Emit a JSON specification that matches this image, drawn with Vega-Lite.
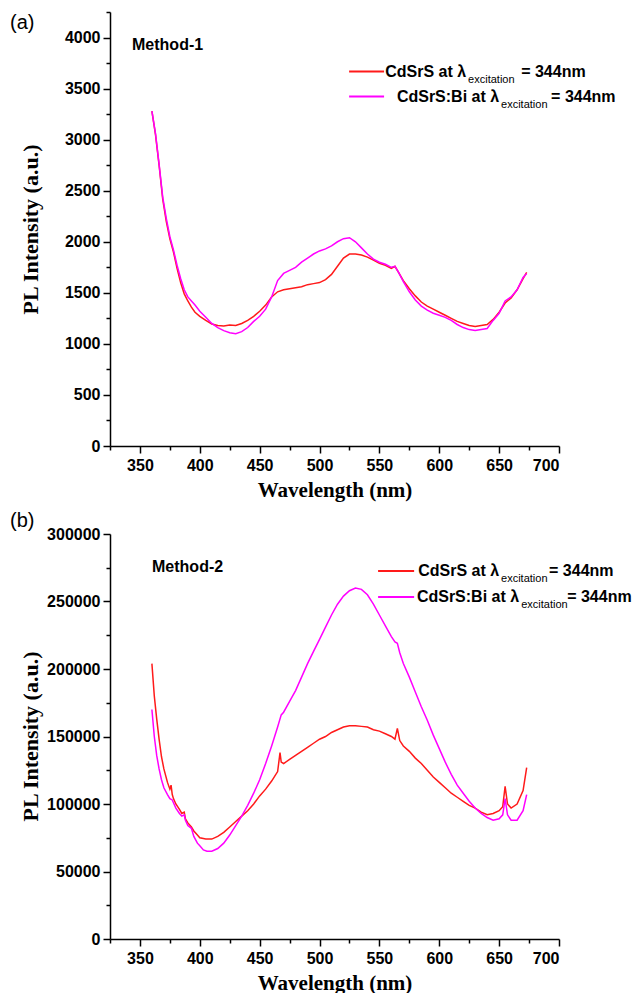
{
  "$schema": "https://vega.github.io/schema/vega-lite/v6.json",
  "padding": {"left": 10, "top": 11, "right": 0, "bottom": 0},
  "spacing": 11,
  "background": "white",
  "config": {
    "view": {"stroke": null},
    "axis": {
      "domainColor": "black", "tickColor": "black", "labelColor": "black", "titleColor": "black",
      "domainWidth": 1.5, "tickWidth": 1.5, "grid": false,
      "labelFont": "Liberation Sans", "labelFontWeight": "bold", "labelFontSize": 16,
      "titleFont": "Liberation Serif", "titleFontWeight": "bold", "titleFontSize": 21
    }
  },
  "datasets": {
    "m1": [
      {"wl":360,"pl":3280,"series":"CdSrS"},{"wl":363,"pl":3050,"series":"CdSrS"},{"wl":366,"pl":2750,"series":"CdSrS"},{"wl":369,"pl":2420,"series":"CdSrS"},{"wl":372,"pl":2200,"series":"CdSrS"},{"wl":375,"pl":2030,"series":"CdSrS"},{"wl":378,"pl":1900,"series":"CdSrS"},{"wl":381,"pl":1740,"series":"CdSrS"},{"wl":384,"pl":1600,"series":"CdSrS"},{"wl":387,"pl":1490,"series":"CdSrS"},{"wl":390,"pl":1420,"series":"CdSrS"},{"wl":393,"pl":1360,"series":"CdSrS"},{"wl":396,"pl":1310,"series":"CdSrS"},{"wl":400,"pl":1270,"series":"CdSrS"},{"wl":405,"pl":1230,"series":"CdSrS"},{"wl":410,"pl":1195,"series":"CdSrS"},{"wl":415,"pl":1180,"series":"CdSrS"},{"wl":420,"pl":1175,"series":"CdSrS"},{"wl":425,"pl":1185,"series":"CdSrS"},{"wl":430,"pl":1180,"series":"CdSrS"},{"wl":435,"pl":1200,"series":"CdSrS"},{"wl":440,"pl":1230,"series":"CdSrS"},{"wl":445,"pl":1270,"series":"CdSrS"},{"wl":450,"pl":1320,"series":"CdSrS"},{"wl":455,"pl":1380,"series":"CdSrS"},{"wl":460,"pl":1460,"series":"CdSrS"},{"wl":465,"pl":1510,"series":"CdSrS"},{"wl":470,"pl":1530,"series":"CdSrS"},{"wl":475,"pl":1540,"series":"CdSrS"},{"wl":480,"pl":1550,"series":"CdSrS"},{"wl":485,"pl":1560,"series":"CdSrS"},{"wl":490,"pl":1580,"series":"CdSrS"},{"wl":495,"pl":1590,"series":"CdSrS"},{"wl":500,"pl":1600,"series":"CdSrS"},{"wl":505,"pl":1630,"series":"CdSrS"},{"wl":510,"pl":1680,"series":"CdSrS"},{"wl":515,"pl":1760,"series":"CdSrS"},{"wl":520,"pl":1840,"series":"CdSrS"},{"wl":525,"pl":1880,"series":"CdSrS"},{"wl":530,"pl":1880,"series":"CdSrS"},{"wl":535,"pl":1870,"series":"CdSrS"},{"wl":540,"pl":1850,"series":"CdSrS"},{"wl":545,"pl":1820,"series":"CdSrS"},{"wl":550,"pl":1790,"series":"CdSrS"},{"wl":555,"pl":1770,"series":"CdSrS"},{"wl":560,"pl":1740,"series":"CdSrS"},{"wl":563,"pl":1760,"series":"CdSrS"},{"wl":566,"pl":1700,"series":"CdSrS"},{"wl":570,"pl":1620,"series":"CdSrS"},{"wl":575,"pl":1540,"series":"CdSrS"},{"wl":580,"pl":1470,"series":"CdSrS"},{"wl":585,"pl":1410,"series":"CdSrS"},{"wl":590,"pl":1370,"series":"CdSrS"},{"wl":595,"pl":1340,"series":"CdSrS"},{"wl":600,"pl":1310,"series":"CdSrS"},{"wl":605,"pl":1280,"series":"CdSrS"},{"wl":610,"pl":1250,"series":"CdSrS"},{"wl":615,"pl":1220,"series":"CdSrS"},{"wl":620,"pl":1200,"series":"CdSrS"},{"wl":625,"pl":1180,"series":"CdSrS"},{"wl":630,"pl":1170,"series":"CdSrS"},{"wl":635,"pl":1180,"series":"CdSrS"},{"wl":640,"pl":1190,"series":"CdSrS"},{"wl":645,"pl":1240,"series":"CdSrS"},{"wl":650,"pl":1310,"series":"CdSrS"},{"wl":655,"pl":1400,"series":"CdSrS"},{"wl":660,"pl":1450,"series":"CdSrS"},{"wl":665,"pl":1530,"series":"CdSrS"},{"wl":670,"pl":1640,"series":"CdSrS"},{"wl":673,"pl":1700,"series":"CdSrS"},
      {"wl":360,"pl":3280,"series":"CdSrS:Bi"},{"wl":363,"pl":3060,"series":"CdSrS:Bi"},{"wl":366,"pl":2760,"series":"CdSrS:Bi"},{"wl":369,"pl":2440,"series":"CdSrS:Bi"},{"wl":372,"pl":2230,"series":"CdSrS:Bi"},{"wl":375,"pl":2050,"series":"CdSrS:Bi"},{"wl":378,"pl":1920,"series":"CdSrS:Bi"},{"wl":381,"pl":1770,"series":"CdSrS:Bi"},{"wl":384,"pl":1640,"series":"CdSrS:Bi"},{"wl":387,"pl":1530,"series":"CdSrS:Bi"},{"wl":390,"pl":1460,"series":"CdSrS:Bi"},{"wl":393,"pl":1420,"series":"CdSrS:Bi"},{"wl":396,"pl":1380,"series":"CdSrS:Bi"},{"wl":400,"pl":1320,"series":"CdSrS:Bi"},{"wl":405,"pl":1260,"series":"CdSrS:Bi"},{"wl":410,"pl":1200,"series":"CdSrS:Bi"},{"wl":415,"pl":1160,"series":"CdSrS:Bi"},{"wl":420,"pl":1130,"series":"CdSrS:Bi"},{"wl":425,"pl":1110,"series":"CdSrS:Bi"},{"wl":430,"pl":1100,"series":"CdSrS:Bi"},{"wl":435,"pl":1120,"series":"CdSrS:Bi"},{"wl":440,"pl":1160,"series":"CdSrS:Bi"},{"wl":445,"pl":1220,"series":"CdSrS:Bi"},{"wl":450,"pl":1270,"series":"CdSrS:Bi"},{"wl":455,"pl":1340,"series":"CdSrS:Bi"},{"wl":460,"pl":1460,"series":"CdSrS:Bi"},{"wl":465,"pl":1620,"series":"CdSrS:Bi"},{"wl":470,"pl":1690,"series":"CdSrS:Bi"},{"wl":475,"pl":1720,"series":"CdSrS:Bi"},{"wl":480,"pl":1750,"series":"CdSrS:Bi"},{"wl":485,"pl":1800,"series":"CdSrS:Bi"},{"wl":490,"pl":1840,"series":"CdSrS:Bi"},{"wl":495,"pl":1880,"series":"CdSrS:Bi"},{"wl":500,"pl":1910,"series":"CdSrS:Bi"},{"wl":505,"pl":1930,"series":"CdSrS:Bi"},{"wl":510,"pl":1960,"series":"CdSrS:Bi"},{"wl":515,"pl":2000,"series":"CdSrS:Bi"},{"wl":520,"pl":2030,"series":"CdSrS:Bi"},{"wl":525,"pl":2040,"series":"CdSrS:Bi"},{"wl":530,"pl":2000,"series":"CdSrS:Bi"},{"wl":535,"pl":1940,"series":"CdSrS:Bi"},{"wl":540,"pl":1880,"series":"CdSrS:Bi"},{"wl":545,"pl":1830,"series":"CdSrS:Bi"},{"wl":550,"pl":1800,"series":"CdSrS:Bi"},{"wl":555,"pl":1780,"series":"CdSrS:Bi"},{"wl":560,"pl":1750,"series":"CdSrS:Bi"},{"wl":563,"pl":1760,"series":"CdSrS:Bi"},{"wl":566,"pl":1700,"series":"CdSrS:Bi"},{"wl":570,"pl":1610,"series":"CdSrS:Bi"},{"wl":575,"pl":1510,"series":"CdSrS:Bi"},{"wl":580,"pl":1430,"series":"CdSrS:Bi"},{"wl":585,"pl":1370,"series":"CdSrS:Bi"},{"wl":590,"pl":1330,"series":"CdSrS:Bi"},{"wl":595,"pl":1300,"series":"CdSrS:Bi"},{"wl":600,"pl":1280,"series":"CdSrS:Bi"},{"wl":605,"pl":1260,"series":"CdSrS:Bi"},{"wl":610,"pl":1230,"series":"CdSrS:Bi"},{"wl":615,"pl":1190,"series":"CdSrS:Bi"},{"wl":620,"pl":1160,"series":"CdSrS:Bi"},{"wl":625,"pl":1140,"series":"CdSrS:Bi"},{"wl":630,"pl":1130,"series":"CdSrS:Bi"},{"wl":635,"pl":1140,"series":"CdSrS:Bi"},{"wl":640,"pl":1150,"series":"CdSrS:Bi"},{"wl":645,"pl":1230,"series":"CdSrS:Bi"},{"wl":650,"pl":1300,"series":"CdSrS:Bi"},{"wl":655,"pl":1420,"series":"CdSrS:Bi"},{"wl":660,"pl":1460,"series":"CdSrS:Bi"},{"wl":665,"pl":1530,"series":"CdSrS:Bi"},{"wl":670,"pl":1650,"series":"CdSrS:Bi"},{"wl":673,"pl":1690,"series":"CdSrS:Bi"}
    ],
    "m2": [
      {"wl":360,"pl":204000,"series":"CdSrS"},{"wl":362,"pl":180000,"series":"CdSrS"},{"wl":364,"pl":163000,"series":"CdSrS"},{"wl":366,"pl":148000,"series":"CdSrS"},{"wl":368,"pl":135000,"series":"CdSrS"},{"wl":370,"pl":126000,"series":"CdSrS"},{"wl":373,"pl":116000,"series":"CdSrS"},{"wl":375,"pl":111000,"series":"CdSrS"},{"wl":376,"pl":114000,"series":"CdSrS"},{"wl":377,"pl":107000,"series":"CdSrS"},{"wl":378,"pl":104000,"series":"CdSrS"},{"wl":380,"pl":100000,"series":"CdSrS"},{"wl":383,"pl":96000,"series":"CdSrS"},{"wl":385,"pl":93000,"series":"CdSrS"},{"wl":387,"pl":94000,"series":"CdSrS"},{"wl":388,"pl":89000,"series":"CdSrS"},{"wl":390,"pl":86000,"series":"CdSrS"},{"wl":393,"pl":83000,"series":"CdSrS"},{"wl":395,"pl":80000,"series":"CdSrS"},{"wl":398,"pl":77000,"series":"CdSrS"},{"wl":400,"pl":75000,"series":"CdSrS"},{"wl":405,"pl":74000,"series":"CdSrS"},{"wl":410,"pl":74000,"series":"CdSrS"},{"wl":415,"pl":76000,"series":"CdSrS"},{"wl":420,"pl":79000,"series":"CdSrS"},{"wl":425,"pl":83000,"series":"CdSrS"},{"wl":430,"pl":87000,"series":"CdSrS"},{"wl":435,"pl":91000,"series":"CdSrS"},{"wl":440,"pl":95000,"series":"CdSrS"},{"wl":445,"pl":100000,"series":"CdSrS"},{"wl":450,"pl":106000,"series":"CdSrS"},{"wl":455,"pl":111000,"series":"CdSrS"},{"wl":460,"pl":117000,"series":"CdSrS"},{"wl":465,"pl":124000,"series":"CdSrS"},{"wl":467,"pl":138000,"series":"CdSrS"},{"wl":468,"pl":131000,"series":"CdSrS"},{"wl":470,"pl":130000,"series":"CdSrS"},{"wl":475,"pl":133000,"series":"CdSrS"},{"wl":480,"pl":136000,"series":"CdSrS"},{"wl":485,"pl":139000,"series":"CdSrS"},{"wl":490,"pl":142000,"series":"CdSrS"},{"wl":495,"pl":145000,"series":"CdSrS"},{"wl":500,"pl":148000,"series":"CdSrS"},{"wl":505,"pl":150000,"series":"CdSrS"},{"wl":510,"pl":153000,"series":"CdSrS"},{"wl":515,"pl":155000,"series":"CdSrS"},{"wl":520,"pl":157000,"series":"CdSrS"},{"wl":525,"pl":158000,"series":"CdSrS"},{"wl":530,"pl":158000,"series":"CdSrS"},{"wl":535,"pl":157500,"series":"CdSrS"},{"wl":540,"pl":157000,"series":"CdSrS"},{"wl":545,"pl":155000,"series":"CdSrS"},{"wl":550,"pl":154000,"series":"CdSrS"},{"wl":555,"pl":152000,"series":"CdSrS"},{"wl":560,"pl":150000,"series":"CdSrS"},{"wl":563,"pl":148000,"series":"CdSrS"},{"wl":565,"pl":156000,"series":"CdSrS"},{"wl":567,"pl":147000,"series":"CdSrS"},{"wl":570,"pl":143000,"series":"CdSrS"},{"wl":575,"pl":139000,"series":"CdSrS"},{"wl":580,"pl":134000,"series":"CdSrS"},{"wl":585,"pl":130000,"series":"CdSrS"},{"wl":590,"pl":125000,"series":"CdSrS"},{"wl":595,"pl":120000,"series":"CdSrS"},{"wl":600,"pl":116000,"series":"CdSrS"},{"wl":605,"pl":112000,"series":"CdSrS"},{"wl":610,"pl":108000,"series":"CdSrS"},{"wl":615,"pl":105000,"series":"CdSrS"},{"wl":620,"pl":102000,"series":"CdSrS"},{"wl":625,"pl":99000,"series":"CdSrS"},{"wl":630,"pl":97000,"series":"CdSrS"},{"wl":635,"pl":94000,"series":"CdSrS"},{"wl":640,"pl":92000,"series":"CdSrS"},{"wl":645,"pl":93000,"series":"CdSrS"},{"wl":650,"pl":95000,"series":"CdSrS"},{"wl":653,"pl":98000,"series":"CdSrS"},{"wl":655,"pl":113000,"series":"CdSrS"},{"wl":657,"pl":100000,"series":"CdSrS"},{"wl":660,"pl":97000,"series":"CdSrS"},{"wl":665,"pl":100000,"series":"CdSrS"},{"wl":670,"pl":110000,"series":"CdSrS"},{"wl":673,"pl":127000,"series":"CdSrS"},
      {"wl":360,"pl":170000,"series":"CdSrS:Bi"},{"wl":362,"pl":150000,"series":"CdSrS:Bi"},{"wl":364,"pl":136000,"series":"CdSrS:Bi"},{"wl":366,"pl":126000,"series":"CdSrS:Bi"},{"wl":368,"pl":118000,"series":"CdSrS:Bi"},{"wl":370,"pl":112000,"series":"CdSrS:Bi"},{"wl":373,"pl":107000,"series":"CdSrS:Bi"},{"wl":375,"pl":104000,"series":"CdSrS:Bi"},{"wl":377,"pl":103000,"series":"CdSrS:Bi"},{"wl":380,"pl":97000,"series":"CdSrS:Bi"},{"wl":383,"pl":93000,"series":"CdSrS:Bi"},{"wl":385,"pl":91000,"series":"CdSrS:Bi"},{"wl":387,"pl":92000,"series":"CdSrS:Bi"},{"wl":388,"pl":88000,"series":"CdSrS:Bi"},{"wl":390,"pl":84000,"series":"CdSrS:Bi"},{"wl":393,"pl":82000,"series":"CdSrS:Bi"},{"wl":395,"pl":76000,"series":"CdSrS:Bi"},{"wl":398,"pl":71000,"series":"CdSrS:Bi"},{"wl":400,"pl":69000,"series":"CdSrS:Bi"},{"wl":403,"pl":66000,"series":"CdSrS:Bi"},{"wl":406,"pl":65000,"series":"CdSrS:Bi"},{"wl":410,"pl":65000,"series":"CdSrS:Bi"},{"wl":415,"pl":67000,"series":"CdSrS:Bi"},{"wl":420,"pl":71000,"series":"CdSrS:Bi"},{"wl":425,"pl":77000,"series":"CdSrS:Bi"},{"wl":430,"pl":84000,"series":"CdSrS:Bi"},{"wl":435,"pl":91000,"series":"CdSrS:Bi"},{"wl":440,"pl":99000,"series":"CdSrS:Bi"},{"wl":445,"pl":108000,"series":"CdSrS:Bi"},{"wl":450,"pl":118000,"series":"CdSrS:Bi"},{"wl":455,"pl":130000,"series":"CdSrS:Bi"},{"wl":460,"pl":143000,"series":"CdSrS:Bi"},{"wl":465,"pl":157000,"series":"CdSrS:Bi"},{"wl":468,"pl":166000,"series":"CdSrS:Bi"},{"wl":470,"pl":168000,"series":"CdSrS:Bi"},{"wl":475,"pl":176000,"series":"CdSrS:Bi"},{"wl":480,"pl":184000,"series":"CdSrS:Bi"},{"wl":485,"pl":194000,"series":"CdSrS:Bi"},{"wl":490,"pl":204000,"series":"CdSrS:Bi"},{"wl":495,"pl":213000,"series":"CdSrS:Bi"},{"wl":500,"pl":222000,"series":"CdSrS:Bi"},{"wl":505,"pl":231000,"series":"CdSrS:Bi"},{"wl":510,"pl":240000,"series":"CdSrS:Bi"},{"wl":515,"pl":248000,"series":"CdSrS:Bi"},{"wl":520,"pl":254000,"series":"CdSrS:Bi"},{"wl":525,"pl":258000,"series":"CdSrS:Bi"},{"wl":530,"pl":260000,"series":"CdSrS:Bi"},{"wl":535,"pl":259000,"series":"CdSrS:Bi"},{"wl":540,"pl":255000,"series":"CdSrS:Bi"},{"wl":545,"pl":248000,"series":"CdSrS:Bi"},{"wl":550,"pl":240000,"series":"CdSrS:Bi"},{"wl":555,"pl":232000,"series":"CdSrS:Bi"},{"wl":560,"pl":224000,"series":"CdSrS:Bi"},{"wl":563,"pl":220000,"series":"CdSrS:Bi"},{"wl":565,"pl":219000,"series":"CdSrS:Bi"},{"wl":567,"pl":212000,"series":"CdSrS:Bi"},{"wl":570,"pl":204000,"series":"CdSrS:Bi"},{"wl":575,"pl":194000,"series":"CdSrS:Bi"},{"wl":580,"pl":183000,"series":"CdSrS:Bi"},{"wl":585,"pl":172000,"series":"CdSrS:Bi"},{"wl":590,"pl":162000,"series":"CdSrS:Bi"},{"wl":595,"pl":151000,"series":"CdSrS:Bi"},{"wl":600,"pl":141000,"series":"CdSrS:Bi"},{"wl":605,"pl":131000,"series":"CdSrS:Bi"},{"wl":610,"pl":122000,"series":"CdSrS:Bi"},{"wl":615,"pl":114000,"series":"CdSrS:Bi"},{"wl":620,"pl":108000,"series":"CdSrS:Bi"},{"wl":625,"pl":102000,"series":"CdSrS:Bi"},{"wl":630,"pl":97000,"series":"CdSrS:Bi"},{"wl":635,"pl":93000,"series":"CdSrS:Bi"},{"wl":640,"pl":90000,"series":"CdSrS:Bi"},{"wl":645,"pl":88000,"series":"CdSrS:Bi"},{"wl":650,"pl":89000,"series":"CdSrS:Bi"},{"wl":653,"pl":92000,"series":"CdSrS:Bi"},{"wl":655,"pl":104000,"series":"CdSrS:Bi"},{"wl":657,"pl":92000,"series":"CdSrS:Bi"},{"wl":660,"pl":88000,"series":"CdSrS:Bi"},{"wl":665,"pl":88000,"series":"CdSrS:Bi"},{"wl":670,"pl":95000,"series":"CdSrS:Bi"},{"wl":673,"pl":107000,"series":"CdSrS:Bi"}
    ],
    "t1": [
      {"part":"line","series":"CdSrS","x":524.7,"x2":553.9,"y":3667},
      {"part":"line","series":"CdSrS:Bi","x":524.7,"x2":553.9,"y":3422},
      {"part":"main","text":"CdSrS at λ","x":622.4,"y":3667},
      {"part":"sub","text":"excitation","x":624.1,"y":3588},
      {"part":"eq","text":"= 344nm","x":668.4,"y":3667},
      {"part":"main","text":"CdSrS:Bi at λ","x":650.0,"y":3422},
      {"part":"sub","text":"excitation","x":651.6,"y":3343},
      {"part":"eq","text":"= 344nm","x":693.4,"y":3422},
      {"part":"label","text":"Method-1","x":343.4,"y":3922},
      {"part":"panel","text":"(a)","x":241.5,"y":4147}
    ],
    "t2": [
      {"part":"line","series":"CdSrS","x":548.9,"x2":579.0,"y":272600},
      {"part":"line","series":"CdSrS:Bi","x":548.9,"x2":579.0,"y":253300},
      {"part":"main","text":"CdSrS at λ","x":650.0,"y":272600},
      {"part":"sub","text":"excitation","x":651.6,"y":266700},
      {"part":"eq","text":"= 344nm","x":691.7,"y":272600},
      {"part":"main","text":"CdSrS:Bi at λ","x":666.7,"y":253300},
      {"part":"sub","text":"excitation","x":668.4,"y":247400},
      {"part":"eq","text":"= 344nm","x":706.8,"y":253300},
      {"part":"label","text":"Method-2","x":360.1,"y":275600},
      {"part":"panel","text":"(b)","x":241.5,"y":309600}
    ]
  },
  "vconcat": [
    {
      "width": 449, "height": 434,
      "resolve": {"axis": {"x": "independent", "y": "independent"}},
      "layer": [
        {
          "data": {"name": "m1"},
          "mark": {"type": "line", "strokeWidth": 1.5},
          "encoding": {
            "x": {"field": "wl", "type": "quantitative", "scale": {"domain": [325, 700], "nice": false, "zero": false},
                  "axis": {"values": [350,400,450,500,550,600,650,700], "tickSize": 7, "labelPadding": 4, "title": "Wavelength (nm)", "titlePadding": 6}},
            "y": {"field": "pl", "type": "quantitative", "scale": {"domain": [0, 4250], "nice": false, "zero": false},
                  "axis": {"values": [0,500,1000,1500,2000,2500,3000,3500,4000], "tickSize": 7, "labelPadding": 3, "format": "d",
                           "title": "PL Intensity (a.u.)", "titleX": -80, "titleY": 217, "titleBaseline": "middle", "titleFontSize": 22}},
            "color": {"field": "series", "type": "nominal", "scale": {"domain": ["CdSrS", "CdSrS:Bi"], "range": ["#ff1a1a", "#ff00ff"]}, "legend": null}
          }
        },
        {
          "data": {"name": "t1"},
          "transform": [{"filter": "datum.part === 'line'"}],
          "mark": {"type": "rule", "strokeWidth": 2},
          "encoding": {
            "x": {"field": "x", "type": "quantitative", "scale": {"domain": [325, 700], "nice": false, "zero": false},
                  "axis": {"orient": "bottom", "values": [325,375,425,475,525,575,625,675], "tickSize": 4, "labels": false, "domain": false, "title": null}},
            "x2": {"field": "x2"},
            "y": {"field": "y", "type": "quantitative", "scale": {"domain": [0, 4250], "nice": false, "zero": false},
                  "axis": {"orient": "left", "values": [250,750,1250,1750,2250,2750,3250,3750,4250], "tickSize": 4, "labels": false, "domain": false, "title": null}},
            "color": {"field": "series", "type": "nominal", "legend": null}
          }
        },
        {
          "data": {"name": "t1"},
          "transform": [{"filter": "datum.part === 'main'"}],
          "mark": {"type": "text", "align": "right", "baseline": "middle", "font": "Liberation Sans", "fontWeight": "bold", "fontSize": 16, "color": "black"},
          "encoding": {
            "x": {"field": "x", "type": "quantitative", "scale": {"domain": [325, 700], "nice": false, "zero": false}, "axis": null},
            "y": {"field": "y", "type": "quantitative", "scale": {"domain": [0, 4250], "nice": false, "zero": false}, "axis": null},
            "text": {"field": "text"}
          }
        },
        {
          "data": {"name": "t1"},
          "transform": [{"filter": "datum.part === 'sub'"}],
          "mark": {"type": "text", "align": "left", "baseline": "middle", "font": "Liberation Sans", "fontSize": 11, "color": "black"},
          "encoding": {
            "x": {"field": "x", "type": "quantitative", "scale": {"domain": [325, 700], "nice": false, "zero": false}, "axis": null},
            "y": {"field": "y", "type": "quantitative", "scale": {"domain": [0, 4250], "nice": false, "zero": false}, "axis": null},
            "text": {"field": "text"}
          }
        },
        {
          "data": {"name": "t1"},
          "transform": [{"filter": "datum.part === 'eq' || datum.part === 'label'"}],
          "mark": {"type": "text", "align": "left", "baseline": "middle", "font": "Liberation Sans", "fontWeight": "bold", "fontSize": 16, "color": "black"},
          "encoding": {
            "x": {"field": "x", "type": "quantitative", "scale": {"domain": [325, 700], "nice": false, "zero": false}, "axis": null},
            "y": {"field": "y", "type": "quantitative", "scale": {"domain": [0, 4250], "nice": false, "zero": false}, "axis": null},
            "text": {"field": "text"}
          }
        },
        {
          "data": {"name": "t1"},
          "transform": [{"filter": "datum.part === 'panel'"}],
          "mark": {"type": "text", "align": "left", "baseline": "middle", "font": "Liberation Sans", "fontSize": 20, "color": "black"},
          "encoding": {
            "x": {"field": "x", "type": "quantitative", "scale": {"domain": [325, 700], "nice": false, "zero": false}, "axis": null},
            "y": {"field": "y", "type": "quantitative", "scale": {"domain": [0, 4250], "nice": false, "zero": false}, "axis": null},
            "text": {"field": "text"}
          }
        }
      ]
    },
    {
      "width": 449, "height": 405,
      "resolve": {"axis": {"x": "independent", "y": "independent"}},
      "layer": [
        {
          "data": {"name": "m2"},
          "mark": {"type": "line", "strokeWidth": 1.5},
          "encoding": {
            "x": {"field": "wl", "type": "quantitative", "scale": {"domain": [325, 700], "nice": false, "zero": false},
                  "axis": {"values": [350,400,450,500,550,600,650,700], "tickSize": 7, "labelPadding": 4, "title": "Wavelength (nm)", "titlePadding": 6}},
            "y": {"field": "pl", "type": "quantitative", "scale": {"domain": [0, 300000], "nice": false, "zero": false},
                  "axis": {"values": [0,50000,100000,150000,200000,250000,300000], "tickSize": 7, "labelPadding": 3, "format": "d",
                           "title": "PL Intensity (a.u.)", "titleX": -80, "titleY": 202, "titleBaseline": "middle", "titleFontSize": 22}},
            "color": {"field": "series", "type": "nominal", "scale": {"domain": ["CdSrS", "CdSrS:Bi"], "range": ["#ff1a1a", "#ff00ff"]}, "legend": null}
          }
        },
        {
          "data": {"name": "t2"},
          "transform": [{"filter": "datum.part === 'line'"}],
          "mark": {"type": "rule", "strokeWidth": 2},
          "encoding": {
            "x": {"field": "x", "type": "quantitative", "scale": {"domain": [325, 700], "nice": false, "zero": false},
                  "axis": {"orient": "bottom", "values": [325,375,425,475,525,575,625,675], "tickSize": 4, "labels": false, "domain": false, "title": null}},
            "x2": {"field": "x2"},
            "y": {"field": "y", "type": "quantitative", "scale": {"domain": [0, 300000], "nice": false, "zero": false},
                  "axis": {"orient": "left", "values": [25000,75000,125000,175000,225000,275000], "tickSize": 4, "labels": false, "domain": false, "title": null}},
            "color": {"field": "series", "type": "nominal", "legend": null}
          }
        },
        {
          "data": {"name": "t2"},
          "transform": [{"filter": "datum.part === 'main'"}],
          "mark": {"type": "text", "align": "right", "baseline": "middle", "font": "Liberation Sans", "fontWeight": "bold", "fontSize": 16, "color": "black"},
          "encoding": {
            "x": {"field": "x", "type": "quantitative", "scale": {"domain": [325, 700], "nice": false, "zero": false}, "axis": null},
            "y": {"field": "y", "type": "quantitative", "scale": {"domain": [0, 300000], "nice": false, "zero": false}, "axis": null},
            "text": {"field": "text"}
          }
        },
        {
          "data": {"name": "t2"},
          "transform": [{"filter": "datum.part === 'sub'"}],
          "mark": {"type": "text", "align": "left", "baseline": "middle", "font": "Liberation Sans", "fontSize": 11, "color": "black"},
          "encoding": {
            "x": {"field": "x", "type": "quantitative", "scale": {"domain": [325, 700], "nice": false, "zero": false}, "axis": null},
            "y": {"field": "y", "type": "quantitative", "scale": {"domain": [0, 300000], "nice": false, "zero": false}, "axis": null},
            "text": {"field": "text"}
          }
        },
        {
          "data": {"name": "t2"},
          "transform": [{"filter": "datum.part === 'eq' || datum.part === 'label'"}],
          "mark": {"type": "text", "align": "left", "baseline": "middle", "font": "Liberation Sans", "fontWeight": "bold", "fontSize": 16, "color": "black"},
          "encoding": {
            "x": {"field": "x", "type": "quantitative", "scale": {"domain": [325, 700], "nice": false, "zero": false}, "axis": null},
            "y": {"field": "y", "type": "quantitative", "scale": {"domain": [0, 300000], "nice": false, "zero": false}, "axis": null},
            "text": {"field": "text"}
          }
        },
        {
          "data": {"name": "t2"},
          "transform": [{"filter": "datum.part === 'panel'"}],
          "mark": {"type": "text", "align": "left", "baseline": "middle", "font": "Liberation Sans", "fontSize": 20, "color": "black"},
          "encoding": {
            "x": {"field": "x", "type": "quantitative", "scale": {"domain": [325, 700], "nice": false, "zero": false}, "axis": null},
            "y": {"field": "y", "type": "quantitative", "scale": {"domain": [0, 300000], "nice": false, "zero": false}, "axis": null},
            "text": {"field": "text"}
          }
        }
      ]
    }
  ]
}
